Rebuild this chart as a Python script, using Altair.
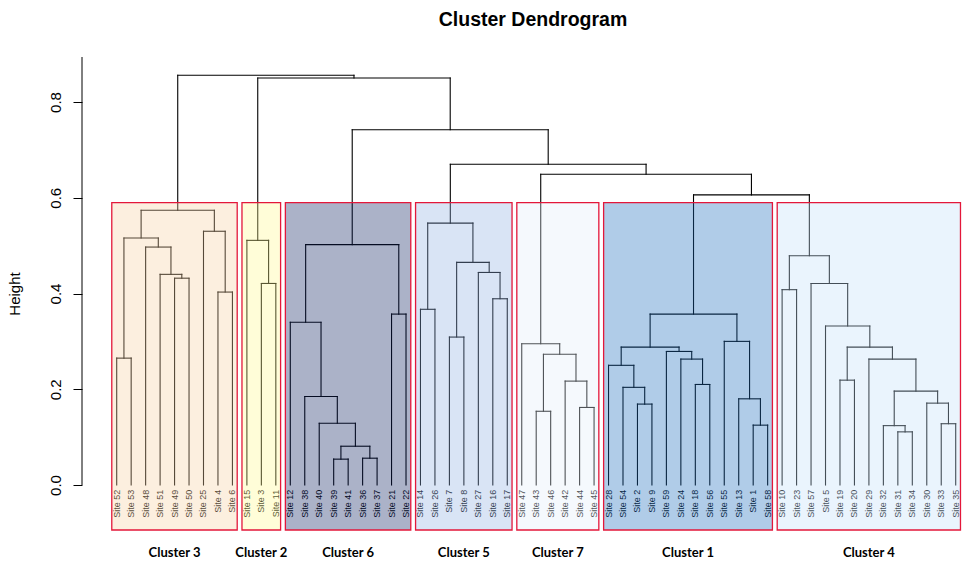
import altair as alt
import pandas as pd

# ---------------- data ----------------
leaf_order = [
    "Site 52", "Site 53", "Site 48", "Site 51", "Site 49", "Site 50", "Site 25", "Site 4", "Site 6",
    "Site 15", "Site 3", "Site 11",
    "Site 12", "Site 38", "Site 40", "Site 39", "Site 41", "Site 36", "Site 37", "Site 21", "Site 22",
    "Site 14", "Site 26", "Site 7", "Site 8", "Site 27", "Site 16", "Site 17",
    "Site 47", "Site 43", "Site 46", "Site 42", "Site 44", "Site 45",
    "Site 28", "Site 54", "Site 2", "Site 9", "Site 59", "Site 24", "Site 18", "Site 56", "Site 55",
    "Site 13", "Site 1", "Site 58",
    "Site 10", "Site 23", "Site 57", "Site 5", "Site 19", "Site 20", "Site 29", "Site 32", "Site 31",
    "Site 34", "Site 30", "Site 33", "Site 35",
]

# merges: (left, right, height); ints refer to earlier merges (1-based)
merges = [
    ("Site 52", "Site 53", 0.265),   # 1
    ("Site 49", "Site 50", 0.432),   # 2
    ("Site 51", 2, 0.440),           # 3
    ("Site 48", 3, 0.497),           # 4
    (1, 4, 0.516),                   # 5
    ("Site 4", "Site 6", 0.403),     # 6
    ("Site 25", 6, 0.530),           # 7
    (5, 7, 0.574),                   # 8  cluster 3
    ("Site 3", "Site 11", 0.421),    # 9
    ("Site 15", 9, 0.511),           # 10 cluster 2
    ("Site 39", "Site 41", 0.054),   # 11
    ("Site 36", "Site 37", 0.056),   # 12
    (11, 12, 0.081),                 # 13
    ("Site 40", 13, 0.129),          # 14
    ("Site 38", 14, 0.185),          # 15
    ("Site 12", 15, 0.340),          # 16
    ("Site 21", "Site 22", 0.357),   # 17
    (16, 17, 0.502),                 # 18 cluster 6
    ("Site 14", "Site 26", 0.367),   # 19
    ("Site 7", "Site 8", 0.309),     # 20
    ("Site 16", "Site 17", 0.389),   # 21
    ("Site 27", 21, 0.444),          # 22
    (20, 22, 0.465),                 # 23
    (19, 23, 0.547),                 # 24 cluster 5
    ("Site 43", "Site 46", 0.154),   # 25
    ("Site 44", "Site 45", 0.162),   # 26
    ("Site 42", 26, 0.217),          # 27
    (25, 27, 0.273),                 # 28
    ("Site 47", 28, 0.295),          # 29 cluster 7
    ("Site 2", "Site 9", 0.169),     # 30
    ("Site 54", 30, 0.204),          # 31
    ("Site 28", 31, 0.250),          # 32
    ("Site 18", "Site 56", 0.210),   # 33
    ("Site 24", 33, 0.263),          # 34
    ("Site 59", 34, 0.279),          # 35
    (32, 35, 0.288),                 # 36
    ("Site 1", "Site 58", 0.125),    # 37
    ("Site 13", 37, 0.180),          # 38
    ("Site 55", 38, 0.300),          # 39
    (36, 39, 0.357),                 # 40 cluster 1
    ("Site 10", "Site 23", 0.408),   # 41
    ("Site 31", "Site 34", 0.111),   # 42
    ("Site 32", 42, 0.124),          # 43
    ("Site 33", "Site 35", 0.128),   # 44
    ("Site 30", 44, 0.171),          # 45
    (43, 45, 0.196),                 # 46
    ("Site 29", 46, 0.263),          # 47
    ("Site 19", "Site 20", 0.219),   # 48
    (48, 47, 0.288),                 # 49
    ("Site 5", 49, 0.332),           # 50
    ("Site 57", 50, 0.421),          # 51
    (41, 51, 0.479),                 # 52 cluster 4
    (40, 52, 0.606),                 # 53
    (29, 53, 0.649),                 # 54
    (24, 54, 0.670),                 # 55
    (18, 55, 0.742),                 # 56
    (10, 56, 0.850),                 # 57
    (8, 57, 0.856),                  # 58 root
]

cluster_names = ["Cluster 3", "Cluster 2", "Cluster 6", "Cluster 5", "Cluster 7", "Cluster 1", "Cluster 4"]
cluster_sizes = [9, 3, 9, 7, 6, 12, 13]
cluster_fills = ["#F6D1A4", "#FFF990", "#0F2362", "#92B2E2", "#E2EEF9", "#1D6DBD", "#C3E0F9"]

y_ticks = [0.0, 0.2, 0.4, 0.6, 0.8]

# ---------------- derived tables ----------------
Y_MIN, Y_MAX = -0.094, 0.894
X_MIN, X_MAX = -1.399, 59.85

pos = {name: i + 1 for i, name in enumerate(leaf_order)}
node_x, node_h = [], []


def ref(r):
    if isinstance(r, str):
        return pos[r], 0.0
    return node_x[r - 1], node_h[r - 1]


segs = []
for a, b, h in merges:
    xa, ha = ref(a)
    xb, hb = ref(b)
    segs.append(dict(x=xa, x2=xa, y=ha, y2=h))
    segs.append(dict(x=xb, x2=xb, y=hb, y2=h))
    segs.append(dict(x=xa, x2=xb, y=h, y2=h))
    node_x.append((xa + xb) / 2)
    node_h.append(h)
seg_df = pd.DataFrame(segs)

k = len(cluster_names)
hs = sorted([m[2] for m in merges], reverse=True)
cut = (hs[k - 2] + hs[k - 1]) / 2

rects = []
start = 1
for name, size, fill in zip(cluster_names, cluster_sizes, cluster_fills):
    end = start + size - 1
    rects.append(dict(name=name, x=start - 0.34, x2=end + 0.33, y=Y_MIN, y2=cut,
                      cx=(start - 0.34 + end + 0.33) / 2, fill=fill))
    start = end + 1
rect_df = pd.DataFrame(rects)

leaf_df = pd.DataFrame(dict(name=leaf_order, x=[pos[n] for n in leaf_order], y=[-0.01] * len(leaf_order)))
axis_df = pd.DataFrame(dict(x=[X_MIN], y=[0.0], y2=[Y_MAX]))

xs = alt.Scale(domain=[X_MIN, X_MAX], nice=False, zero=False)
ys = alt.Scale(domain=[Y_MIN, Y_MAX], nice=False, zero=False)

y_axis = alt.Axis(values=y_ticks, format=".1f", domain=False, grid=False,
                  tickSize=9, tickColor="black", tickWidth=1,
                  labelAngle=270, labelAlign="center", labelBaseline="bottom",
                  labelPadding=10, labelFont="Liberation Sans", labelFontSize=15,
                  labelColor="black", titleFont="Liberation Sans", titleFontSize=15,
                  titleFontWeight="normal", titleColor="black", titlePadding=26)


def Y(field):
    return alt.Y(field, scale=ys, title="Height", axis=y_axis)


def X(field):
    return alt.X(field, scale=xs, axis=None)


lines = alt.Chart(seg_df).mark_rule(color="black", strokeWidth=1.1, strokeCap="square").encode(
    x=X("x:Q"), x2="x2:Q", y=Y("y:Q"), y2="y2:Q",
)

leaf_text = alt.Chart(leaf_df).mark_text(angle=270, align="right", baseline="middle",
                                         font="Liberation Sans", fontSize=9, color="#000000").encode(
    x=X("x:Q"), y=Y("y:Q"), text="name:N",
)

boxes = alt.Chart(rect_df).mark_rect(fillOpacity=0.35, stroke="#E3173A", strokeWidth=1.3, strokeOpacity=1).encode(
    x=X("x:Q"), x2="x2:Q", y=Y("y:Q"), y2="y2:Q",
    fill=alt.Fill("fill:N", scale=None),
)

labels = alt.Chart(rect_df).mark_text(font="Lato", fontWeight="bold", fontSize=13, color="black",
                                      baseline="middle", align="center").encode(
    x=X("cx:Q"), y=alt.value(496), text="name:N",
)

axis_line = alt.Chart(axis_df).mark_rule(color="black", strokeWidth=1).encode(
    x=X("x:Q"), y=Y("y:Q"), y2="y2:Q",
)

chart = alt.layer(lines, leaf_text, boxes, labels, axis_line).properties(
    width=886,
    height=473,
    background="white",
    title=alt.TitleParams("Cluster Dendrogram", font="Liberation Sans", fontSize=19.5, fontWeight="bold",
                          color="black", anchor="middle", frame="group", dx=8, offset=26),
    autosize=alt.AutoSizeParams(type="none"),
    padding={"left": 82, "top": 57, "right": 0, "bottom": 42},
).configure_view(stroke=None)

chart.save("out.html", embed_options={"renderer": "svg", "actions": False})
